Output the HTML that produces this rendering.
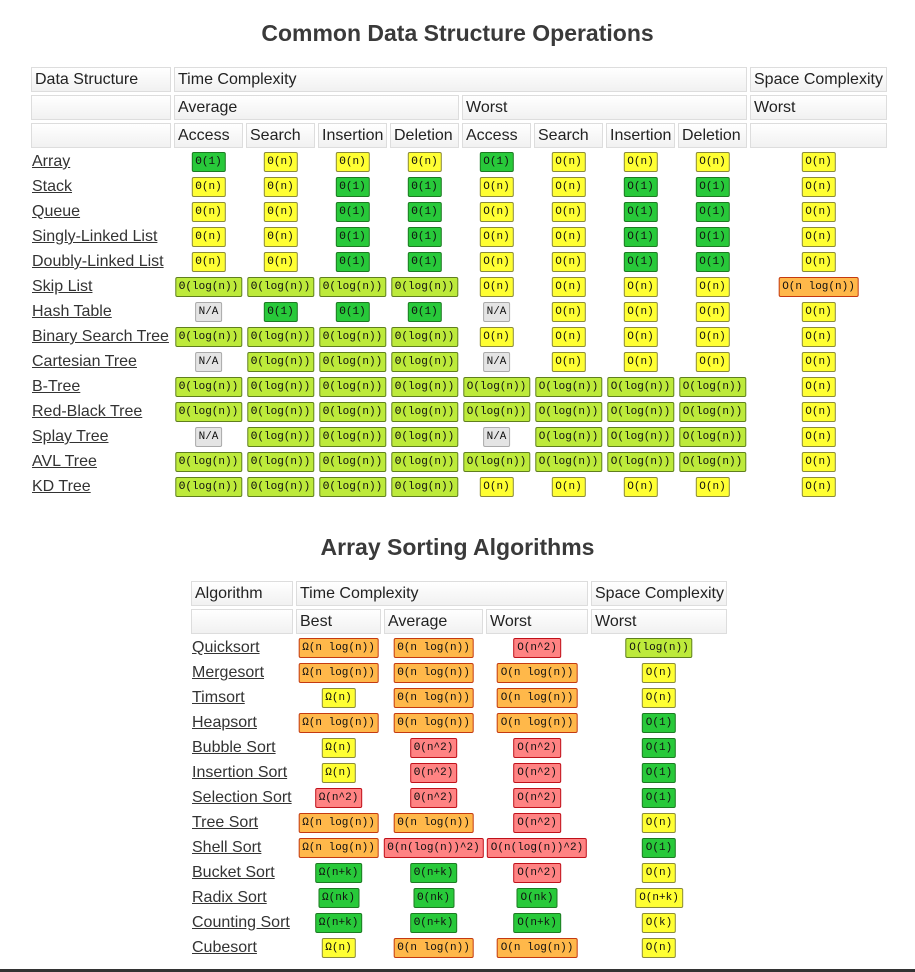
<!DOCTYPE html>
<html><head><meta charset="utf-8"><style>
body{margin:0;width:915px;height:972px;background:#fff;position:relative;overflow:hidden;font-family:"Liberation Sans",sans-serif;color:#333}
.t{position:absolute;width:915px;text-align:center;font-weight:bold;font-size:23px;color:#3a3a3a}
.h{position:absolute;box-sizing:border-box;height:25px;border:1px solid #ddd;background:linear-gradient(#fff,#f1f1f1);font-size:16px;line-height:23px;padding-left:3px;color:#222;white-space:nowrap}
.l{position:absolute;font-size:16px;line-height:18px;color:#333;text-decoration:underline;white-space:nowrap}
.b{position:absolute;box-sizing:border-box;height:20px;line-height:18px;font-family:"Liberation Mono",monospace;font-size:11px;padding:0 3px;border:1px solid;border-radius:2px;white-space:nowrap;transform:translateX(-50%);color:#111}
.g{background:#28c93a;border-color:#1c7a22}.y{background:#ffff33;border-color:#8a8a3a}.yg{background:#bdea3b;border-color:#5f7f1e}
.o{background:#ffb84a;border-color:#c43a10}.r{background:#ff8383;border-color:#c0101a}.na{background:#e4e4e4;border-color:#aaa}
</style></head><body>
<div class="t" style="top:20px">Common Data Structure Operations</div>
<div class="t" style="top:534px">Array Sorting Algorithms</div>
<div style="position:absolute;left:0;top:969px;width:915px;height:3px;background:#333"></div>
<div id="root"></div>
<script>
const dsNames=["Array","Stack","Queue","Singly-Linked List","Doubly-Linked List","Skip List","Hash Table","Binary Search Tree","Cartesian Tree","B-Tree","Red-Black Tree","Splay Tree","AVL Tree","KD Tree"];
const dsValues=[
["Θ(1)","Θ(n)","Θ(n)","Θ(n)","O(1)","O(n)","O(n)","O(n)","O(n)"],
["Θ(n)","Θ(n)","Θ(1)","Θ(1)","O(n)","O(n)","O(1)","O(1)","O(n)"],
["Θ(n)","Θ(n)","Θ(1)","Θ(1)","O(n)","O(n)","O(1)","O(1)","O(n)"],
["Θ(n)","Θ(n)","Θ(1)","Θ(1)","O(n)","O(n)","O(1)","O(1)","O(n)"],
["Θ(n)","Θ(n)","Θ(1)","Θ(1)","O(n)","O(n)","O(1)","O(1)","O(n)"],
["Θ(log(n))","Θ(log(n))","Θ(log(n))","Θ(log(n))","O(n)","O(n)","O(n)","O(n)","O(n log(n))"],
["N/A","Θ(1)","Θ(1)","Θ(1)","N/A","O(n)","O(n)","O(n)","O(n)"],
["Θ(log(n))","Θ(log(n))","Θ(log(n))","Θ(log(n))","O(n)","O(n)","O(n)","O(n)","O(n)"],
["N/A","Θ(log(n))","Θ(log(n))","Θ(log(n))","N/A","O(n)","O(n)","O(n)","O(n)"],
["Θ(log(n))","Θ(log(n))","Θ(log(n))","Θ(log(n))","O(log(n))","O(log(n))","O(log(n))","O(log(n))","O(n)"],
["Θ(log(n))","Θ(log(n))","Θ(log(n))","Θ(log(n))","O(log(n))","O(log(n))","O(log(n))","O(log(n))","O(n)"],
["N/A","Θ(log(n))","Θ(log(n))","Θ(log(n))","N/A","O(log(n))","O(log(n))","O(log(n))","O(n)"],
["Θ(log(n))","Θ(log(n))","Θ(log(n))","Θ(log(n))","O(log(n))","O(log(n))","O(log(n))","O(log(n))","O(n)"],
["Θ(log(n))","Θ(log(n))","Θ(log(n))","Θ(log(n))","O(n)","O(n)","O(n)","O(n)","O(n)"]];
const sortNames=["Quicksort","Mergesort","Timsort","Heapsort","Bubble Sort","Insertion Sort","Selection Sort","Tree Sort","Shell Sort","Bucket Sort","Radix Sort","Counting Sort","Cubesort"];
const sortValues=[
["Ω(n log(n))","Θ(n log(n))","O(n^2)","O(log(n))"],
["Ω(n log(n))","Θ(n log(n))","O(n log(n))","O(n)"],
["Ω(n)","Θ(n log(n))","O(n log(n))","O(n)"],
["Ω(n log(n))","Θ(n log(n))","O(n log(n))","O(1)"],
["Ω(n)","Θ(n^2)","O(n^2)","O(1)"],
["Ω(n)","Θ(n^2)","O(n^2)","O(1)"],
["Ω(n^2)","Θ(n^2)","O(n^2)","O(1)"],
["Ω(n log(n))","Θ(n log(n))","O(n^2)","O(n)"],
["Ω(n log(n))","Θ(n(log(n))^2)","O(n(log(n))^2)","O(1)"],
["Ω(n+k)","Θ(n+k)","O(n^2)","O(n)"],
["Ω(nk)","Θ(nk)","O(nk)","O(n+k)"],
["Ω(n+k)","Θ(n+k)","O(n+k)","O(k)"],
["Ω(n)","Θ(n log(n))","O(n log(n))","O(n)"]];
function cls(v){
 if(v==="N/A")return "na";
 const s=v.slice(2,-1);
 if(s==="1")return "g";
 if(s==="log(n)")return "yg";
 if(s==="n log(n)")return "o";
 if(s.indexOf("^2")>=0)return "r";
 return "y";
}
const root=document.getElementById('root');
function hdr(x,y,w,txt,name){const d=document.createElement('div');d.className='h';d.style.left=x+'px';d.style.top=y+'px';d.style.width=w+'px';d.textContent=txt;


root.appendChild(d);}
function badge(cx,cy,v,name,c){const d=document.createElement('div');d.className='b '+(c||cls(v));d.style.left=cx+'px';d.style.top=(cy-10)+'px';d.textContent=v;


root.appendChild(d);}
function link(x,cy,t,name){const d=document.createElement('a');d.className='l';d.style.left=x+'px';d.style.top=(cy-8)+'px';d.textContent=t;


root.appendChild(d);}
const c1=[[31,140],[174,69],[246,69],[318,69],[390,69],[462,69],[534,69],[606,69],[678,69],[750,137]];
hdr(31,67,140,"Data Structure","header-data-structure");hdr(174,67,573,"Time Complexity","header-time-complexity");hdr(750,67,137,"Space Complexity","header-space-complexity");
hdr(31,95,140,"","header-blank");hdr(174,95,285,"Average","header-average");hdr(462,95,285,"Worst","header-worst");hdr(750,95,137,"Worst","header-space-worst");
const sub=["","Access","Search","Insertion","Deletion","Access","Search","Insertion","Deletion",""];
c1.forEach((c,i)=>hdr(c[0],123,c[1],sub[i],"header-"+(sub[i]||"blank").toLowerCase()+"-"+i));
dsNames.forEach((n,r)=>{const cy=161+r*25;link(32,cy,n,"link-"+n.toLowerCase().replace(/ /g,'-'));
 dsValues[r].forEach((v,k)=>{const c=c1[k+1];badge(c[0]+c[1]/2,cy+1,v,"cell-"+n.toLowerCase().replace(/ /g,'-')+"-"+k);});});
const c2=[[191,102],[296,85],[384,99],[486,102],[591,136]];
hdr(191,581,102,"Algorithm","header-algorithm");hdr(296,581,292,"Time Complexity","header-sort-time-complexity");hdr(591,581,136,"Space Complexity","header-sort-space-complexity");
const sub2=["","Best","Average","Worst","Worst"];
c2.forEach((c,i)=>hdr(c[0],609,c[1],sub2[i],"header-sort-"+(sub2[i]||"blank").toLowerCase()+"-"+i));
function cls2(v,k){
 const s=v.slice(2,-1);
 if(k===3){if(s==="1")return "g";if(s==="log(n)")return "yg";return "y";}
 if(s==="n+k"||s==="nk")return "g";
 return cls(v);
}
sortNames.forEach((n,r)=>{const cy=647+r*25;link(192,cy,n,"link-"+n.toLowerCase().replace(/ /g,'-'));
 sortValues[r].forEach((v,k)=>{const c=c2[k+1];badge(c[0]+c[1]/2,cy+1,v,"sort-cell-"+n.toLowerCase().replace(/ /g,'-')+"-"+k,cls2(v,k));});});
</script>
</body></html>
